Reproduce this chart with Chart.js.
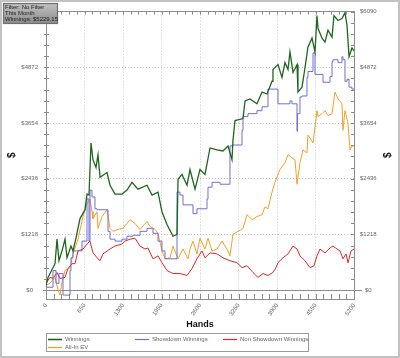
<!DOCTYPE html>
<html>
<head>
<meta charset="utf-8">
<script src="https://cdn.jsdelivr.net/npm/chart.js@4.4.1/dist/chart.umd.min.js"></script>
<style>
  html, body { margin: 0; padding: 0; background: #fff; }
</style>
</head>
<body>
<canvas id="results" width="400" height="358"></canvas>
<script>
// hands axis and dollar axis (major ticks only, minors are split in 5)
const handTicks = [0, 650, 1300, 1950, 2600, 3250, 3900, 4550, 5200]
const dollarTicks = [0, 1218, 2436, 3654, 4872, 6090]
const infoLines = ['Filter: No Filter', 'This Month', 'Winnings: $5229.15']

// Winnings
const winningsHands = [0, 34, 152, 186, 219, 270, 321, 355, 422, 456, 506, 574, 658, 692, 726, 760, 793, 844, 878, 912, 1030, 1081, 1165, 1283, 1368, 1452, 1553, 1705, 1790, 1891, 1958, 2043, 2144, 2212, 2229, 2296, 2381, 2431, 2516, 2600, 2684, 2769, 2887, 2988, 3073, 3140, 3157, 3191, 3326, 3360, 3444, 3562, 3647, 3731, 3816, 3832, 3917, 3984, 4035, 4086, 4119, 4170, 4238, 4254, 4322, 4373, 4423, 4491, 4542, 4575, 4592, 4660, 4710, 4761, 4829, 4862, 4930, 4997, 5048, 5082, 5116, 5166, 5200]
const winningsValues = [107, 279, 579, 1115, 643, 858, 1115, 708, 965, 858, 1136, 1565, 1758, 2101, 2080, 3216, 2852, 2680, 2959, 2466, 2573, 2294, 2101, 2101, 2187, 2358, 2208, 2294, 2080, 2144, 1715, 1436, 1179, 1222, 2423, 2530, 2294, 2637, 2208, 2637, 2530, 3109, 3066, 3044, 3152, 2852, 3280, 3709, 3752, 4138, 4181, 4074, 4331, 4288, 4567, 4824, 4931, 4652, 4974, 4824, 5210, 4760, 4931, 4331, 4438, 4867, 5317, 5510, 5210, 6003, 5724, 5510, 5424, 5682, 5532, 6003, 5896, 5939, 6068, 5789, 5103, 5296, 5229]

// Showdown Winnings
const showdownHands = [0, 118, 169, 219, 287, 338, 405, 422, 456, 608, 692, 726, 743, 777, 827, 861, 912, 1047, 1081, 1165, 1283, 1368, 1469, 1587, 1705, 1806, 1891, 1958, 2009, 2060, 2212, 2262, 2313, 2397, 2482, 2549, 2566, 2718, 2735, 2803, 2938, 3106, 3140, 3309, 3326, 3410, 3562, 3647, 3748, 3816, 3917, 3951, 4119, 4153, 4238, 4245, 4288, 4322, 4406, 4423, 4508, 4542, 4575, 4677, 4795, 4829, 4845, 4930, 4997, 5014, 5048, 5082, 5116, 5166, 5200]
const showdownValues = [107, 64, 429, 150, 364, -107, -107, 429, 708, 858, 1072, 1994, 1072, 2187, 2037, 1780, 1758, 1758, 1286, 1115, 1072, 1115, 1179, 1201, 1286, 1351, 1244, 1072, 858, 686, 686, 2144, 2080, 1865, 1865, 1672, 1780, 1780, 1994, 2251, 2358, 2316, 3152, 3173, 3495, 3795, 3859, 3924, 4009, 4395, 4395, 4074, 4074, 4138, 4074, 3473, 3859, 4224, 4245, 4652, 4781, 5188, 4717, 4717, 4545, 4674, 4996, 5038, 4974, 5103, 5038, 4567, 4610, 4438, 4395]

// Non Showdown Winnings
const nonShowdownHands = [0, 68, 118, 186, 236, 321, 371, 439, 490, 540, 625, 709, 743, 793, 878, 912, 962, 1081, 1165, 1283, 1334, 1418, 1503, 1587, 1671, 1722, 1806, 1891, 1958, 2043, 2144, 2262, 2381, 2465, 2549, 2634, 2684, 2769, 2887, 2988, 3106, 3225, 3309, 3393, 3495, 3579, 3664, 3748, 3832, 3883, 3917, 4001, 4086, 4170, 4238, 4288, 4373, 4457, 4525, 4575, 4626, 4710, 4795, 4845, 4913, 4964, 5014, 5065, 5099, 5149, 5200]
const nonShowdownValues = [150, 279, 257, 386, 257, 279, 472, 579, 579, 858, 900, 1029, 1072, 815, 686, 643, 793, 900, 965, 1008, 1072, 1115, 1136, 965, 900, 922, 686, 750, 600, 429, 364, 364, 322, 472, 686, 858, 708, 815, 793, 708, 643, 600, 493, 536, 386, 279, 364, 322, 386, 493, 600, 708, 793, 965, 900, 750, 643, 493, 536, 750, 900, 815, 922, 965, 900, 858, 686, 793, 600, 858, 900]

// All-In EV
const allInHands = [0, 68, 152, 203, 236, 270, 321, 405, 456, 540, 625, 692, 743, 777, 793, 861, 878, 945, 1030, 1081, 1131, 1216, 1300, 1418, 1503, 1587, 1705, 1756, 1840, 1891, 1958, 2009, 2094, 2144, 2229, 2313, 2397, 2431, 2482, 2549, 2600, 2684, 2735, 2803, 2887, 2971, 3056, 3106, 3157, 3242, 3326, 3393, 3478, 3562, 3647, 3697, 3748, 3816, 3866, 3951, 4035, 4086, 4153, 4204, 4238, 4288, 4339, 4406, 4423, 4491, 4508, 4575, 4592, 4660, 4710, 4761, 4829, 4879, 4930, 4997, 5014, 5048, 5099, 5133, 5166, 5200]
const allInValues = [107, 150, 279, 0, -107, 172, 429, 493, 793, 1115, 1608, 1887, 1994, 1715, 1565, 1715, 1351, 1608, 1758, 1351, 1286, 1329, 1351, 1544, 1458, 1329, 1501, 1394, 1329, 1244, 858, 686, 708, 965, 686, 900, 686, 900, 1072, 793, 1136, 900, 1136, 858, 900, 1072, 900, 750, 1222, 1286, 1351, 1651, 1544, 1608, 1651, 1822, 1780, 2144, 2358, 2637, 2787, 2959, 2894, 2852, 2316, 2787, 3066, 3002, 3388, 3259, 3216, 3924, 3795, 3859, 3924, 3816, 3859, 4331, 4181, 4074, 3495, 3924, 3645, 3066, 3152, 3152]

const fontFamily = "'Liberation Sans Narrow', 'Liberation Sans', Arial, sans-serif"
const axisGrey = '#8c8c8c'

function toPoints(hands, values) {
  return hands.map((h, i) => ({ x: h, y: values[i] }))
}

// major ticks plus 4 minor ticks between each pair
function withMinor(major) {
  const out = []
  for (let i = 0; i < major.length - 1; i++) {
    for (let k = 0; k < 5; k++) out.push(major[i] + ((major[i + 1] - major[i]) * k) / 5)
  }
  out.push(major[major.length - 1])
  return out
}

function setTicks(list) {
  return scale => {
    scale.ticks = withMinor(list).map(value => ({ value }))
  }
}

const innerGrid = list => ctx =>
  ctx.tick && list.indexOf(ctx.tick.value) > 0 && ctx.tick.value !== list[list.length - 1]
    ? '#c6c6c6'
    : 'rgba(0,0,0,0)'

// ----- extra drawing: tick marks, zero line, titles, legend, info box -----
const chartDecor = {
  id: 'chartDecor',
  beforeDatasetsDraw(chart) {
    const { ctx, chartArea: a, scales } = chart
    ctx.save()
    ctx.strokeStyle = axisGrey
    ctx.lineWidth = 1
    ctx.beginPath()
    const y0 = Math.round(scales.y.getPixelForValue(0)) + 0.5
    ctx.moveTo(a.left - 3, y0)
    ctx.lineTo(a.right + 8, y0)
    scales.x.ticks.forEach(t => {
      const px = Math.round(scales.x.getPixelForValue(t.value)) + 0.5
      ctx.moveTo(px, a.bottom)
      ctx.lineTo(px, a.bottom - 5)
      ctx.moveTo(px, a.top)
      ctx.lineTo(px, a.top + 3)
    })
    scales.y.ticks.forEach(t => {
      const py = Math.round(scales.y.getPixelForValue(t.value)) + 0.5
      ctx.moveTo(a.left - 2, py)
      ctx.lineTo(a.left + 3, py)
      ctx.moveTo(a.right + 1, py)
      ctx.lineTo(a.right - 3, py)
    })
    ctx.stroke()
    ctx.restore()
  },
  afterDraw(chart) {
    const { ctx, chartArea: a } = chart
    ctx.save()

    // axis titles
    ctx.fillStyle = '#111'
    ctx.textAlign = 'center'
    ctx.textBaseline = 'middle'
    ctx.font = `bold 9px ${fontFamily}`
    ctx.fillText('Hands', (a.left + a.right) / 2, 325)
    const midY = (a.top + a.bottom) / 2
    ctx.font = `bold 10px ${fontFamily}`
    ;[12, 388].forEach(tx => {
      ctx.save()
      ctx.translate(tx, midY)
      ctx.rotate(-Math.PI / 2)
      ctx.fillText('$', 0, 0)
      ctx.restore()
    })

    // legend
    ctx.strokeStyle = '#9a9a9a'
    ctx.lineWidth = 1
    ctx.strokeRect(46.5, 333.5, 262, 18)
    const slots = [[48, 339], [135, 339], [223, 339], [48, 347]]
    ctx.font = `6px ${fontFamily}`
    ctx.textAlign = 'left'
    chart.data.datasets.forEach((ds, i) => {
      const [lx, ly] = slots[i]
      ctx.strokeStyle = ds.borderColor
      ctx.lineWidth = i === 0 ? 1.6 : 1.2
      ctx.beginPath()
      ctx.moveTo(lx, ly + 0.5)
      ctx.lineTo(lx + 14, ly + 0.5)
      ctx.stroke()
      ctx.fillStyle = '#666'
      ctx.fillText(ds.label, lx + 17, ly + 0.5)
    })

    // info box, top left
    const grad = ctx.createLinearGradient(0, 3, 0, 23)
    grad.addColorStop(0, '#c2c2c2')
    grad.addColorStop(1, '#8e8e8e')
    ctx.fillStyle = grad
    ctx.fillRect(3, 3, 54, 20)
    ctx.strokeStyle = '#6e6e6e'
    ctx.strokeRect(3.5, 3.5, 54, 20)
    ctx.fillStyle = '#1a1a1a'
    ctx.font = `6px ${fontFamily}`
    infoLines.forEach((line, i) => ctx.fillText(line, 5, 7 + i * 6.3))

    // outer frame
    ctx.strokeStyle = '#c2c2c2'
    ctx.lineWidth = 2
    ctx.strokeRect(1, 1, 398, 356)
    ctx.restore()
  },
}

const tickFont = { family: fontFamily, size: 6 }

new Chart(document.getElementById('results'), {
  type: 'line',
  data: {
    datasets: [
      {
        label: 'Winnings',
        data: toPoints(winningsHands, winningsValues),
        borderColor: '#1d661d',
        borderWidth: 1.3,
      },
      {
        label: 'Showdown Winnings',
        data: toPoints(showdownHands, showdownValues),
        borderColor: '#6f6fd6',
        borderWidth: 1,
        stepped: 'after',
      },
      {
        label: 'Non Showdown Winnings',
        data: toPoints(nonShowdownHands, nonShowdownValues),
        borderColor: '#e02626',
        borderWidth: 1,
      },
      {
        label: 'All-In EV',
        data: toPoints(allInHands, allInValues),
        borderColor: '#f0a028',
        borderWidth: 1,
      },
    ],
  },
  options: {
    responsive: false,
    animation: false,
    layout: { padding: 0 },
    elements: { point: { radius: 0 }, line: { tension: 0 } },
    plugins: { legend: { display: false }, tooltip: { enabled: false } },
    scales: {
      x: {
        type: 'linear',
        position: 'bottom',
        min: 0,
        max: 5200,
        afterBuildTicks: setTicks(handTicks),
        afterFit: s => { s.height = 59 },
        grid: { drawTicks: false, color: innerGrid(handTicks) },
        border: { color: axisGrey, dash: [1, 2] },
        ticks: {
          autoSkip: false,
          minRotation: 55,
          maxRotation: 55,
          padding: 3,
          color: '#666',
          font: tickFont,
          callback: v => (handTicks.includes(v) ? String(v) : ''),
        },
      },
      xTop: {
        type: 'linear',
        position: 'top',
        min: 0,
        max: 5200,
        afterFit: s => { s.height = 6 },
        grid: { display: false },
        border: { color: axisGrey },
        ticks: { display: false },
      },
      y: {
        position: 'left',
        min: -193,
        max: 6090,
        afterBuildTicks: setTicks(dollarTicks),
        afterFit: s => { s.width = 46 },
        grid: { drawTicks: false, color: innerGrid(dollarTicks) },
        border: { color: axisGrey, dash: [1, 2] },
        ticks: {
          autoSkip: false,
          crossAlign: 'center',
          padding: 8,
          color: '#666',
          font: tickFont,
          callback: v => (dollarTicks.includes(v) ? '$' + v : ''),
        },
      },
      yRight: {
        position: 'right',
        min: -193,
        max: 6090,
        afterBuildTicks: setTicks(dollarTicks),
        afterFit: s => { s.width = 46 },
        grid: { drawOnChartArea: false, drawTicks: false },
        border: { color: axisGrey },
        ticks: {
          autoSkip: false,
          crossAlign: 'center',
          padding: 6,
          color: '#666',
          font: tickFont,
          callback: v => (dollarTicks.includes(v) ? '$' + v : ''),
        },
      },
    },
  },
  plugins: [chartDecor],
})
</script>
</body>
</html>
